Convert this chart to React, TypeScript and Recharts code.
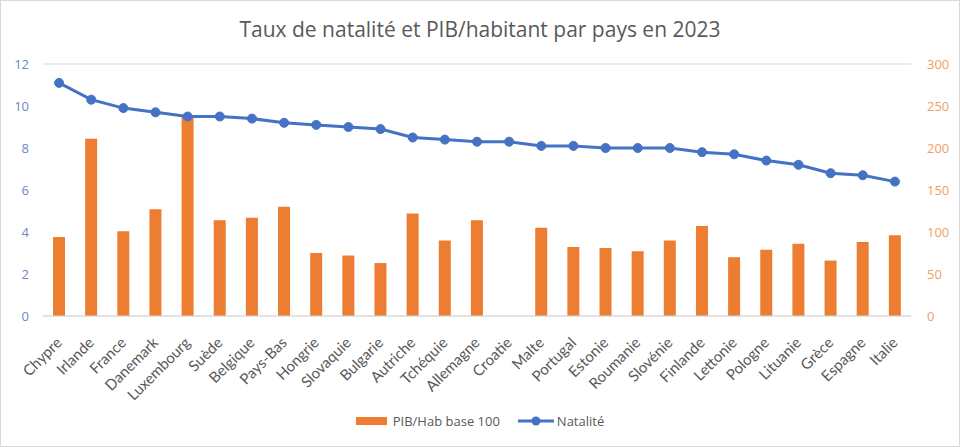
import React from 'react';
import { ComposedChart, Bar, Line, XAxis, YAxis, CartesianGrid, Legend } from 'recharts';

const countries = [
    'Chypre', 'Irlande', 'France', 'Danemark', 'Luxembourg', 'Suède', 'Belgique', 'Pays-Bas', 'Hongrie',
    'Slovaquie', 'Bulgarie', 'Autriche', 'Tchéquie', 'Allemagne', 'Croatie', 'Malte', 'Portugal', 'Estonie',
    'Roumanie', 'Slovénie', 'Finlande', 'Lettonie', 'Pologne', 'Lituanie', 'Grèce', 'Espagne', 'Italie',
];

// PIB/Hab base 100 (axe de droite) – Croatie absente
const pibHab = [
    94, 211, 101, 127, 238, 114, 117, 130, 75,
    72, 63, 122, 90, 114, null, 105, 82, 81,
    77, 90, 107, 70, 79, 86, 66, 88, 96,
];

// Natalité (axe de gauche)
const natalite = [
    11.1, 10.3, 9.9, 9.7, 9.5, 9.5, 9.4, 9.2, 9.1,
    9.0, 8.9, 8.5, 8.4, 8.3, 8.3, 8.1, 8.1, 8.0,
    8.0, 8.0, 7.8, 7.7, 7.4, 7.2, 6.8, 6.7, 6.4,
];

const leftTicks = [0, 2, 4, 6, 8, 10, 12];
const rightTicks = [0, 50, 100, 150, 200, 250, 300];

const data = countries.map((pays, i) => ({
    pays,
    pib: pibHab[i],
    nat: natalite[i],
}));

const FONT = '"Open Sans", "Noto Sans", sans-serif';
const LABEL_FONT = 'Lato, "Open Sans", sans-serif';

// rotated country label, its end sits just under the tick
const CountryTick = (props: any) => {
    const { x, y, payload } = props;
    return (
        <g transform={`translate(${x},${y + 18})`}>
            <text transform="rotate(-45)" textAnchor="end" dy="0.35em" fill="#595959" fontSize={15} fontFamily={LABEL_FONT}>
                {payload.value}
            </text>
        </g>
    );
};

// legend in Excel order: bars first, then the line
const renderLegend = () => (
    <div style={{ display: 'flex', justifyContent: 'center', alignItems: 'center', height: 18, fontSize: 13, color: '#595959', fontFamily: FONT }}>
        <svg width={31} height={12} style={{ marginRight: 6 }}>
            <rect x={0} y={2} width={31} height={8} fill="#ed7d31" />
        </svg>
        <span>PIB/Hab base 100</span>
        <svg width={36} height={12} style={{ marginLeft: 18, marginRight: 3 }}>
            <line x1={0} y1={6} x2={36} y2={6} stroke="#4472c4" strokeWidth={3} />
            <circle cx={18} cy={6} r={4.5} fill="#4472c4" />
        </svg>
        <span>Natalité</span>
    </div>
);

const App: React.FC = () => {
    return (
        <div style={{ position: 'absolute', left: 0, top: 0, width: 960, height: 447, background: '#fff', border: '1px solid #d9d9d9', boxSizing: 'border-box', fontFamily: FONT }}>
            <div style={{ position: 'absolute', top: 14, left: 0, width: 958, textAlign: 'center', fontSize: 21, color: '#595959' }}>
                Taux de natalité et PIB/habitant par pays en 2023
            </div>
            <ComposedChart width={958} height={445} data={data} margin={{ top: 63, right: 0, left: 0, bottom: 16 }}>
                <CartesianGrid vertical={false} stroke="#d9d9d9" />
                <XAxis
                    dataKey="pays"
                    interval={0}
                    height={96}
                    tickLine={false}
                    axisLine={{ stroke: '#d9d9d9' }}
                    tick={<CountryTick />}
                    tickMargin={0}
                />
                <YAxis
                    yAxisId="left"
                    domain={[0, 12]}
                    ticks={leftTicks}
                    width={42}
                    axisLine={false}
                    tickLine={false}
                    tick={{ fill: '#6f87c6', fontSize: 13, fontFamily: FONT }}
                    tickMargin={8}
                />
                <YAxis
                    yAxisId="right"
                    orientation="right"
                    domain={[0, 300]}
                    ticks={rightTicks}
                    width={48}
                    axisLine={false}
                    tickLine={false}
                    tick={{ fill: '#f0a060', fontSize: 13, fontFamily: FONT }}
                    tickMargin={10}
                />
                <Bar yAxisId="right" dataKey="pib" name="PIB/Hab base 100" fill="#ed7d31" barSize={12} isAnimationActive={false} />
                <Line
                    yAxisId="left"
                    dataKey="nat"
                    name="Natalité"
                    stroke="#4472c4"
                    strokeWidth={3}
                    dot={{ r: 4.5, fill: '#4472c4', stroke: '#4472c4', strokeWidth: 1 }}
                    isAnimationActive={false}
                />
                <Legend verticalAlign="bottom" content={renderLegend} />
            </ComposedChart>
        </div>
    );
};

export default App;
